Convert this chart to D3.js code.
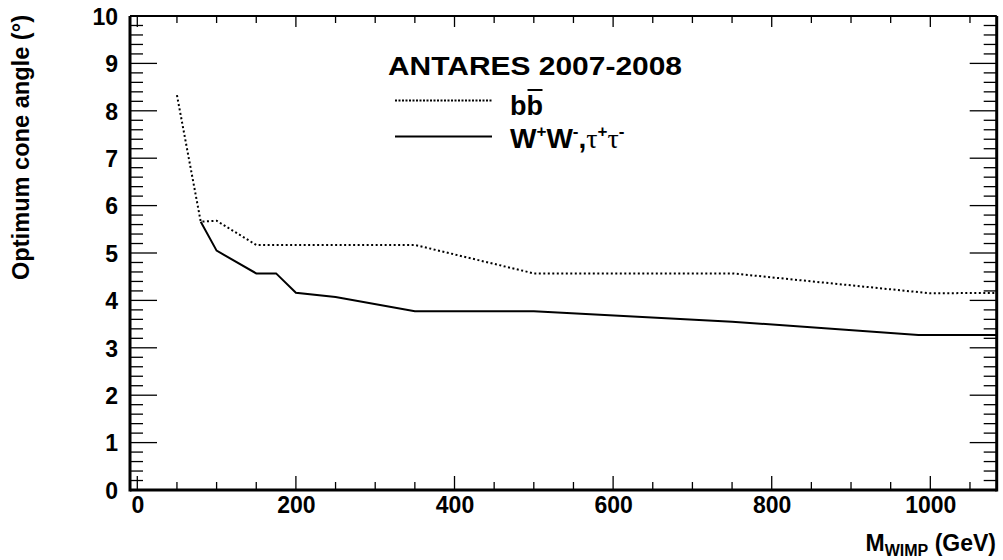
<!DOCTYPE html>
<html>
<head>
<meta charset="utf-8">
<script src="https://cdn.jsdelivr.net/npm/d3@7"></script>
<style>
html,body{margin:0;padding:0;background:#fff;}
svg{display:block;}
text{font-family:"Liberation Sans",Arial,Helvetica,sans-serif;font-weight:bold;fill:#000;}
</style>
</head>
<body>
<svg id="chart" width="1003" height="560"></svg>
<script>
// ---- data ----
const bbMass   = [50, 80, 100, 150, 350, 500, 750, 1000, 1100];
const bbAngle  = [8.33, 5.66, 5.68, 5.17, 5.17, 4.57, 4.57, 4.15, 4.16];
const wwMass   = [80, 100, 150, 175, 200, 250, 350, 500, 750, 985, 1100];
const wwAngle  = [5.66, 5.05, 4.57, 4.57, 4.16, 4.07, 3.77, 3.77, 3.55, 3.27, 3.27];
const xTickLabels = [0, 200, 400, 600, 800, 1000];
const yTickLabels = [0, 1, 2, 3, 4, 5, 6, 7, 8, 9, 10];
const xDomain = [-9.2, 1083.7];
const yDomain = [0, 10];
const titleText = "ANTARES 2007-2008";

// ---- layout ----
const svg = d3.select("#chart");
const L = 130, R = 996.7, T = 16, B = 490;
const x = d3.scaleLinear().domain(xDomain).range([L, R]);
const y = d3.scaleLinear().domain(yDomain).range([B, T]);

const xMinor = d3.range(0, 1083, 50);
const yMinor = d3.range(0, 10.001, 0.2).map(v => +v.toFixed(1));

const gx = svg.append("g");
xMinor.forEach(v => {
  const major = v % 200 === 0;
  const len = major ? 14 : 8;
  gx.append("line").attr("x1", x(v)).attr("x2", x(v)).attr("y1", B).attr("y2", B - len)
    .attr("stroke", "#000").attr("stroke-width", 1.3);
  gx.append("line").attr("x1", x(v)).attr("x2", x(v)).attr("y1", T).attr("y2", T + (major ? 11 : 7))
    .attr("stroke", "#000").attr("stroke-width", 1.3);
});
yMinor.forEach(v => {
  const major = Math.abs(v - Math.round(v)) < 1e-6;
  const len = major ? 27 : 13;
  gx.append("line").attr("x1", L).attr("x2", L + len).attr("y1", y(v)).attr("y2", y(v))
    .attr("stroke", "#000").attr("stroke-width", 1.3);
  gx.append("line").attr("x1", R).attr("x2", R - len).attr("y1", y(v)).attr("y2", y(v))
    .attr("stroke", "#000").attr("stroke-width", 1.3);
});

// frame
svg.append("line").attr("x1", L).attr("x2", R).attr("y1", T).attr("y2", T).attr("stroke", "#000").attr("stroke-width", 2);
svg.append("line").attr("x1", L).attr("x2", R).attr("y1", B).attr("y2", B).attr("stroke", "#000").attr("stroke-width", 3);
svg.append("line").attr("x1", L).attr("x2", L).attr("y1", T).attr("y2", B + 1.5).attr("stroke", "#000").attr("stroke-width", 3);
svg.append("line").attr("x1", R).attr("x2", R).attr("y1", T).attr("y2", B + 1.5).attr("stroke", "#000").attr("stroke-width", 3);

// axis labels via d3 axes (tick marks hidden)
const xAxis = d3.axisBottom(x).tickValues(xTickLabels).tickSize(0).tickPadding(0).tickFormat(d3.format("d"));
const gxa = svg.append("g").attr("transform", `translate(0,${B + 7})`).call(xAxis);
gxa.select(".domain").remove();
gxa.selectAll("text").attr("font-size", 23).attr("dy", "0.71em")
  .style("font-family", "'Liberation Sans',Arial,sans-serif").style("font-weight", "bold").attr("fill", "#000");

const yAxis = d3.axisLeft(y).tickValues(yTickLabels).tickSize(0).tickPadding(12).tickFormat(d3.format("d"));
const gya = svg.append("g").attr("transform", `translate(${L},0)`).call(yAxis);
gya.select(".domain").remove();
gya.selectAll("text").attr("font-size", 23).attr("dy", "0.36em")
  .style("font-family", "'Liberation Sans',Arial,sans-serif").style("font-weight", "bold").attr("fill", "#000");

// clip
svg.append("clipPath").attr("id", "clip").append("rect")
  .attr("x", L).attr("y", T).attr("width", R - L).attr("height", B - T);

const line = d3.line().x(d => x(d[0])).y(d => y(d[1]));
const bbData = bbMass.map((m, i) => [m, bbAngle[i]]);
const wwData = wwMass.map((m, i) => [m, wwAngle[i]]);

svg.append("path").datum(bbData).attr("d", line).attr("clip-path", "url(#clip)")
  .attr("fill", "none").attr("stroke", "#000").attr("stroke-width", 2).attr("stroke-dasharray", "2,2.5");
svg.append("path").datum(wwData).attr("d", line).attr("clip-path", "url(#clip)")
  .attr("fill", "none").attr("stroke", "#000").attr("stroke-width", 2);

// y title
svg.append("text").attr("transform", "translate(29,15) rotate(-90)")
  .attr("text-anchor", "end").attr("font-size", 23)
  .attr("textLength", 265).attr("lengthAdjust", "spacingAndGlyphs")
  .text("Optimum cone angle (°)");

// x title
const xt = svg.append("text").attr("x", 996).attr("y", 551).attr("text-anchor", "end").attr("font-size", 23);
xt.append("tspan").text("M");
xt.append("tspan").attr("font-size", 16).attr("dy", 5).text("WIMP");
xt.append("tspan").attr("dy", -5).text(" (GeV)");

// legend
svg.append("text").attr("x", 388).attr("y", 75).attr("font-size", 26)
  .attr("textLength", 294).attr("lengthAdjust", "spacingAndGlyphs").text(titleText);

svg.append("line").attr("x1", 395).attr("x2", 492).attr("y1", 100.5).attr("y2", 100.5)
  .attr("stroke", "#000").attr("stroke-width", 2).attr("stroke-dasharray", "2,1.5");
svg.append("line").attr("x1", 395).attr("x2", 492).attr("y1", 136.5).attr("y2", 136.5)
  .attr("stroke", "#000").attr("stroke-width", 2);

const bbT = svg.append("text").attr("x", 510).attr("y", 115).attr("font-size", 27);
bbT.append("tspan").text("b");
bbT.append("tspan").text("b");
const bw = bbT.node().getComputedTextLength();
const b1w = bw / 2;
svg.append("line").attr("x1", 510 + b1w + 1).attr("x2", 510 + bw - 0.5).attr("y1", 90).attr("y2", 90)
  .attr("stroke", "#000").attr("stroke-width", 2);

const wT = svg.append("text").attr("x", 510).attr("y", 148).attr("font-size", 28);
wT.append("tspan").text("W");
wT.append("tspan").attr("font-size", 17).attr("dy", -11).text("+");
wT.append("tspan").attr("dy", 11).text("W");
wT.append("tspan").attr("font-size", 17).attr("dy", -11).text("-");
wT.append("tspan").attr("dy", 11).text(",");
wT.append("tspan").style("font-family", "'Liberation Serif',serif").style("font-weight", "normal").text("τ");
wT.append("tspan").attr("font-size", 17).attr("dy", -11).text("+");
wT.append("tspan").attr("dy", 11).style("font-family", "'Liberation Serif',serif").style("font-weight", "normal").text("τ");
wT.append("tspan").attr("font-size", 17).attr("dy", -11).text("-");
</script>
</body>
</html>
